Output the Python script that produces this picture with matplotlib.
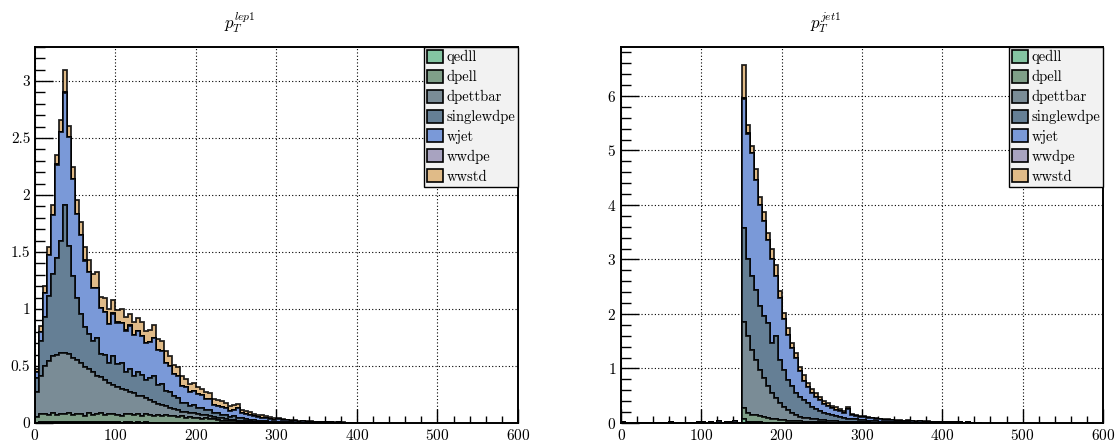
import numpy as np
import matplotlib
matplotlib.use('Agg')
import matplotlib.pyplot as plt

plt.rcParams['font.family'] = ['cmr10', 'DejaVu Serif']
plt.rcParams['mathtext.fontset'] = 'cm'
plt.rcParams['axes.unicode_minus'] = False
plt.rcParams['axes.formatter.use_mathtext'] = True

samples = ['qedll', 'dpell', 'dpettbar', 'singlewdpe', 'wjet', 'wwdpe', 'wwstd']
colors = ['#84c5a2', '#7f9f88', '#7a8c96', '#657f95', '#7a99d8', '#a8a3c0', '#e0bb88']

# ---- pT lep1, 5 GeV bins from 0 to 400
lep_edges = np.arange(0, 405, 5)
qedll_lep = [0.004, 0.006, 0.005, 0.006, 0.005, 0.006, 0.005, 0.006, 0.005, 0.006,
             0.005, 0.006, 0.005, 0.005, 0.006, 0.005, 0.005, 0.006, 0.005, 0.005,
             0.005, 0.004, 0.005, 0.005, 0.004, 0.005, 0.004, 0.005, 0.004, 0.004,
             0.004, 0.004, 0.003, 0.004, 0.003, 0.003, 0.003, 0.003, 0.002, 0.002,
             0.002, 0.002, 0.002, 0.001, 0.001, 0.001, 0.001, 0.001]
dpell_lep = [0.05, 0.07, 0.075, 0.065, 0.08, 0.06, 0.075, 0.07, 0.08, 0.065,
             0.075, 0.07, 0.06, 0.08, 0.065, 0.07, 0.08, 0.06, 0.07, 0.075,
             0.065, 0.06, 0.075, 0.07, 0.065, 0.075, 0.06, 0.07, 0.065, 0.06,
             0.065, 0.055, 0.065, 0.055, 0.06, 0.05, 0.055, 0.045, 0.05, 0.045,
             0.04, 0.035, 0.04, 0.03, 0.03, 0.025, 0.02, 0.02, 0.015, 0.015,
             0.01, 0.01, 0.008, 0.006, 0.005, 0.004, 0.003, 0.002]
dpettbar_lep = [0.22, 0.34, 0.42, 0.47, 0.5, 0.53, 0.53, 0.54, 0.52, 0.5,
                0.47, 0.45, 0.43, 0.39, 0.38, 0.34, 0.32, 0.31, 0.28, 0.25,
                0.25, 0.23, 0.21, 0.2, 0.19, 0.16, 0.17, 0.14, 0.13, 0.12,
                0.1, 0.1, 0.08, 0.07, 0.06, 0.06, 0.04, 0.05, 0.04, 0.04,
                0.04, 0.035, 0.03, 0.03, 0.025, 0.02, 0.02, 0.018, 0.015, 0.012,
                0.01, 0.01, 0.008, 0.008, 0.006, 0.005, 0.005, 0.004, 0.003, 0.003,
                0.002, 0.002, 0.002, 0.001, 0.001]
singlewdpe_lep = [0.12, 0.3, 0.43, 0.57, 0.72, 0.85, 0.99, 1.3, 0.95, 0.72,
                  0.55, 0.43, 0.35, 0.31, 0.27, 0.33, 0.2, 0.22, 0.17, 0.26,
                  0.2, 0.23, 0.16, 0.2, 0.15, 0.21, 0.19, 0.16, 0.2, 0.23,
                  0.16, 0.18, 0.13, 0.14, 0.11, 0.11, 0.08, 0.08, 0.06, 0.07,
                  0.05, 0.06, 0.04, 0.05, 0.035, 0.045, 0.03, 0.035, 0.025, 0.03,
                  0.02, 0.025, 0.018, 0.015, 0.015, 0.01, 0.012, 0.008, 0.008, 0.006,
                  0.006, 0.005, 0.004, 0.004, 0.003, 0.003, 0.002, 0.002, 0.002, 0.001]
wjet_lep = [0.05, 0.08, 0.21, 0.36, 0.52, 0.82, 0.95, 0.98, 0.95, 0.85,
            0.73, 0.69, 0.58, 0.54, 0.46, 0.44, 0.4, 0.38, 0.34, 0.37,
            0.36, 0.35, 0.36, 0.38, 0.36, 0.36, 0.34, 0.33, 0.31, 0.33,
            0.31, 0.29, 0.25, 0.23, 0.2, 0.19, 0.15, 0.14, 0.12, 0.12,
            0.12, 0.11, 0.1, 0.1, 0.07, 0.06, 0.07, 0.06, 0.05, 0.06,
            0.09, 0.04, 0.045, 0.04, 0.035, 0.03, 0.028, 0.03, 0.025, 0.02,
            0.025, 0.018, 0.016, 0.014, 0.013, 0.01, 0.014, 0.009, 0.008, 0.008,
            0.007, 0.008, 0.005, 0.008, 0.004, 0.006, 0.004, 0.003, 0.003, 0.002]
wwdpe_lep = [0.002, 0.003, 0.003, 0.004, 0.004, 0.004, 0.005, 0.005, 0.004, 0.004,
             0.004, 0.004, 0.003, 0.003, 0.003, 0.003, 0.003, 0.002, 0.002, 0.002,
             0.002, 0.002, 0.002, 0.001, 0.001, 0.001, 0.001, 0.001]
wwstd_lep = [0.03, 0.05, 0.06, 0.07, 0.08, 0.08, 0.1, 0.2, 0.1, 0.1,
             0.12, 0.11, 0.12, 0.1, 0.12, 0.14, 0.1, 0.12, 0.13, 0.12,
             0.11, 0.12, 0.12, 0.1, 0.12, 0.11, 0.12, 0.1, 0.11, 0.12,
             0.1, 0.09, 0.1, 0.09, 0.08, 0.08, 0.08, 0.07, 0.07, 0.07,
             0.06, 0.06, 0.06, 0.05, 0.05, 0.05, 0.05, 0.04, 0.04, 0.04,
             0.04, 0.03, 0.03, 0.03, 0.02, 0.02, 0.02, 0.02, 0.015, 0.012,
             0.01, 0.01, 0.008, 0.006, 0.006, 0.005, 0.005, 0.004, 0.004, 0.003,
             0.003, 0.003, 0.002, 0.002, 0.002, 0.002, 0.001, 0.001, 0.001, 0.001]

# ---- pT jet1, 5 GeV bins from 0 to 450 (cut at 150, a few stray entries below)
jet_edges = np.arange(0, 455, 5)
wjet_jet_below = [0.01, 0.0, 0.0, 0.006, 0.0, 0.0, 0.0, 0.008, 0.0, 0.0,
                  0.0, 0.0, 0.01, 0.0, 0.0, 0.0, 0.0, 0.006, 0.0, 0.012,
                  0.02, 0.0, 0.015, 0.0, 0.03, 0.0, 0.02, 0.012, 0.04, 0.0]
qedll_jet = [0.08, 0.02, 0.015, 0.01, 0.01, 0.008, 0.006, 0.005, 0.004, 0.003,
             0.003, 0.002, 0.002, 0.001]
dpell_jet = [0.2, 0.16, 0.14, 0.13, 0.11, 0.095, 0.085, 0.075, 0.065, 0.057,
             0.048, 0.043, 0.038, 0.034, 0.029, 0.024, 0.02, 0.019, 0.015, 0.014,
             0.01, 0.009, 0.008, 0.007, 0.006, 0.005, 0.005, 0.004, 0.003, 0.003,
             0.002, 0.002]
dpettbar_jet = [1.57, 1.41, 1.19, 1.02, 0.85, 0.73, 0.58, 0.47, 0.39, 0.31,
                0.25, 0.195, 0.14, 0.115, 0.09, 0.075, 0.07, 0.06, 0.055, 0.045,
                0.04, 0.035, 0.03, 0.025, 0.02, 0.018, 0.016, 0.014, 0.012, 0.01,
                0.009, 0.008, 0.007, 0.006, 0.005, 0.004, 0.004, 0.003, 0.003, 0.002]
singlewdpe_jet = [1.72, 1.42, 1.35, 1.28, 1.17, 1.13, 1.16, 0.92, 1.14, 0.79,
                  0.67, 0.55, 0.49, 0.4, 0.36, 0.32, 0.28, 0.22, 0.18, 0.16,
                  0.14, 0.115, 0.1, 0.095, 0.08, 0.07, 0.06, 0.055, 0.05, 0.04,
                  0.035, 0.03, 0.028, 0.025, 0.022, 0.02, 0.018, 0.016, 0.014, 0.012,
                  0.01, 0.01, 0.009, 0.008, 0.007, 0.006, 0.005, 0.005, 0.004, 0.004]
wjet_jet = [2.38, 2.3, 2.26, 2.01, 1.86, 1.74, 1.52, 1.53, 1.1, 1.14,
            0.93, 0.83, 0.71, 0.65, 0.47, 0.36, 0.29, 0.25, 0.23, 0.2,
            0.16, 0.15, 0.13, 0.12, 0.11, 0.09, 0.17, 0.07, 0.06, 0.06,
            0.06, 0.055, 0.05, 0.045, 0.04, 0.035, 0.035, 0.03, 0.028, 0.03,
            0.025, 0.03, 0.025, 0.018, 0.022, 0.018, 0.02, 0.016, 0.012, 0.016,
            0.013, 0.014, 0.01, 0.013, 0.01, 0.006, 0.01, 0.006, 0.007, 0.005]
wwdpe_jet = [0.006, 0.005, 0.005, 0.004, 0.004, 0.003, 0.003, 0.003, 0.002, 0.002,
             0.002, 0.002, 0.001, 0.001, 0.001]
wwstd_jet = [0.62, 0.15, 0.13, 0.2, 0.15, 0.16, 0.14, 0.18, 0.2, 0.12,
             0.12, 0.12, 0.09, 0.09, 0.08, 0.1, 0.08, 0.07, 0.07, 0.06,
             0.05, 0.05, 0.04, 0.05, 0.04, 0.03, 0.04, 0.03, 0.03, 0.02,
             0.02, 0.02, 0.015, 0.015, 0.01, 0.01, 0.01, 0.01, 0.008, 0.008,
             0.006, 0.006, 0.005, 0.005, 0.004, 0.004, 0.004, 0.003, 0.003, 0.003]


def pad(vals, n, front=None):
    '''zero tail so every sample covers all bins'''
    out = list(front or []) + list(vals)
    return out + [0.0] * (n - len(out))


def draw_stack(ax, edges, weights, ymax, title):
    centers = 0.5 * (edges[:-1] + edges[1:])
    _, _, patches = ax.hist([centers] * len(weights), bins=edges, weights=weights,
                            stacked=True, histtype='stepfilled', color=colors,
                            edgecolor=(0, 0, 0, 0.85), linewidth=1.3)
    ax.set_xlim(0, 600)
    ax.set_ylim(0, ymax)
    ax.set_axisbelow(True)
    ax.grid(True, which='major', color='black', linestyle=(0, (1, 2)), linewidth=0.8)
    ax.set_xticks(np.arange(0, 601, 100))
    ax.set_xticks(np.arange(0, 601, 20), minor=True)
    ax.tick_params(which='both', direction='in', labelsize=11, width=1)
    ax.tick_params(axis='x', which='major', length=10)
    ax.tick_params(axis='x', which='minor', length=5)
    ax.tick_params(axis='y', which='major', length=13)
    ax.tick_params(axis='y', which='minor', length=7)
    for sp in ax.spines.values():
        sp.set_linewidth(1.4)
    # legend in sample order, qedll on top
    handles = [p[0] if isinstance(p, list) else p for p in patches]
    leg = ax.legend(handles, samples, loc='upper right', borderaxespad=0, fancybox=False,
                    framealpha=1, facecolor='#f2f2f2', edgecolor='black', fontsize=10.5,
                    handlelength=1.1, handleheight=1.0, handletextpad=0.25,
                    labelspacing=0.37, borderpad=0.2)
    leg.get_frame().set_linewidth(1.0)
    for h in leg.legend_handles:
        h.set_edgecolor('black')
        h.set_linewidth(1.2)
    ax.text(0.425, 1.065, title, transform=ax.transAxes, ha='center', va='center', fontsize=12)


fig = plt.figure(figsize=(11.18, 4.42), dpi=100)
ax1 = fig.add_axes([0.0313, 0.043, 0.432, 0.851])
ax2 = fig.add_axes([0.5555, 0.043, 0.431, 0.851])

n_lep = len(lep_edges) - 1
lep_w = [pad(a, n_lep) for a in [qedll_lep, dpell_lep, dpettbar_lep, singlewdpe_lep,
                                 wjet_lep, wwdpe_lep, wwstd_lep]]
draw_stack(ax1, lep_edges, lep_w, 3.3, r'$p_T^{lep1}$')
ax1.set_yticks(np.arange(0, 3.01, 0.5))
ax1.set_yticks(np.arange(0, 3.31, 0.1), minor=True)
ax1.set_yticklabels(['0', '0.5', '1', '1.5', '2', '2.5', '3'])

n_jet = len(jet_edges) - 1
below = [0.0] * 30
jet_w = [pad(qedll_jet, n_jet, below), pad(dpell_jet, n_jet, below),
         pad(dpettbar_jet, n_jet, below), pad(singlewdpe_jet, n_jet, below),
         pad(wjet_jet, n_jet, wjet_jet_below), pad(wwdpe_jet, n_jet, below),
         pad(wwstd_jet, n_jet, below)]
draw_stack(ax2, jet_edges, jet_w, 6.9, r'$p_T^{jet1}$')
ax2.set_yticks(np.arange(0, 7, 1))
ax2.set_yticks(np.arange(0, 6.9, 0.2), minor=True)

plt.savefig('out.png', dpi=100)
